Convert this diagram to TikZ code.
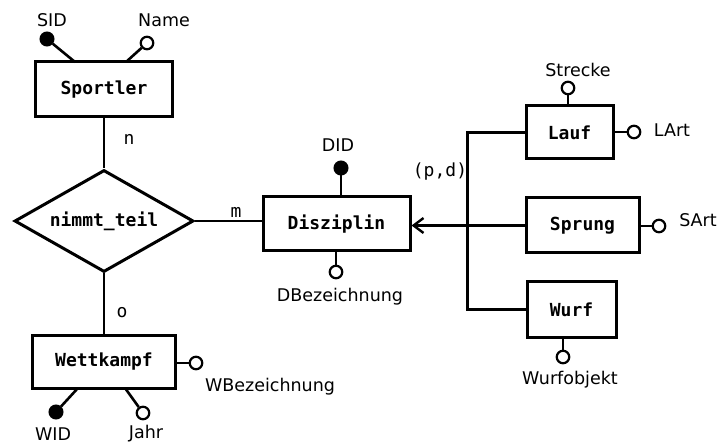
\documentclass[tikz,border=0pt]{standalone}
\usepackage{fontspec}
\setmainfont{DejaVu Sans}
\newfontfamily\boxfont{DejaVu Sans Mono}
\usetikzlibrary{shapes.geometric,arrows.meta}
\begin{document}
\begin{tikzpicture}[x=1pt,y=-1pt, line width=2.6pt,
 ent/.style={draw, rectangle, line width=3pt, font=\boxfont\bfseries\fontsize{18}{20}\selectfont, inner sep=0},
 rel/.style={draw, diamond, aspect=1.75, line width=3pt, font=\boxfont\bfseries\fontsize{18}{20}\selectfont, inner sep=0},
 key/.style={circle, fill, draw, minimum size=13pt, inner sep=0, line width=2pt},
 att/.style={circle, draw, fill=white, minimum size=12.5pt, inner sep=0, line width=2.2pt},
 lbl/.style={font=\fontsize{17.5}{20}\selectfont, inner sep=0},
 card/.style={font=\boxfont\fontsize{18}{20}\selectfont, inner sep=0},
]
\useasboundingbox[fill=white] (0,0) rectangle (720,446);

% entities
\node[ent, minimum width=137pt, minimum height=55pt] (sp) at (104,89.5) {Sportler};
\node[rel, minimum width=179pt, minimum height=102pt] (nt) at (104,221) {nimmt\_teil};
\node[ent, minimum width=147pt, minimum height=54pt] (dis) at (336.5,224) {Disziplin};
\node[ent, minimum width=143pt, minimum height=53pt] (wk) at (104,361.5) {Wettkampf};
\node[ent, minimum width=87pt, minimum height=53pt] (lauf) at (569.5,132.5) {Lauf};
\node[ent, minimum width=113pt, minimum height=55pt] (sprung) at (582.5,225.5) {Sprung};
\node[ent, minimum width=89pt, minimum height=55pt] (wurf) at (571.5,309.5) {Wurf};

% relationship lines
\draw (sp.south) -- (nt.north);
\draw (nt.east) -- (nt.east -| dis.west);
\draw (nt.south) -- (wk.north);

% generalisation
\draw (lauf.west) -- ++(-57,0) |- (wurf.west);
\draw[-{Straight Barb[length=10pt,width=15pt,line width=2.4pt]}] (sprung.west) -- (sprung.west -| dis.east);

% attribute anchor points on boxes
\coordinate (spA) at (75,62);
\coordinate (spB) at (126,62);
\coordinate (wkA) at (78,388);
\coordinate (wkB) at (125,388);

% attributes
\node[key] (sid) at (47,39) {};
\node[att] (name) at (147,43) {};
\draw (sid) -- (spA);
\draw (name) -- (spB);

\node[key] (did) at (341,168) {};
\draw (did) -- (did |- dis.north);
\node[att] (dbez) at (336,272) {};
\draw (dbez) -- (dbez |- dis.south);

\node[att] (wbez) at (196,363) {};
\draw (wbez) -- (wbez -| wk.east);
\node[key] (wid) at (56,412) {};
\draw (wid) -- (wkA);
\node[att] (jahr) at (143,413) {};
\draw (jahr) -- (wkB);

\node[att] (strecke) at (568,88) {};
\draw (strecke) -- (strecke |- lauf.north);
\node[att] (lart) at (634,132) {};
\draw (lart) -- (lart -| lauf.east);
\node[att] (sart) at (659,226) {};
\draw (sart) -- (sart -| sprung.east);
\node[att] (wo) at (563,357) {};
\draw (wo) -- (wo |- wurf.south);

% labels
\node[lbl] (lsid) at (52,20) {SID};
\node[lbl] (lname) at (164,20) {Name};
\node[lbl] (ldid) at (338,145) {DID};
\node[lbl] (ldbez) at (340,297) {DBezeichnung};
\node[lbl] (lwbez) at (270,387) {WBezeichnung};
\node[lbl] (lwid) at (53,434) {WID};
\node[lbl] (ljahr) at (146,434) {Jahr};
\node[lbl] (lstrecke) at (578,70) {Strecke};
\node[lbl] (llart) at (672,130) {LArt};
\node[lbl] (lsart) at (698,220) {SArt};
\node[lbl] (lwo) at (570,380) {Wurfobjekt};

\node[card] (cn) at (129,139) {n};
\node[card] (cm) at (236,212) {m};
\node[card] (co) at (122,313) {o};
\node[card] (cpd) at (440,172) {(p,d)};
\end{tikzpicture}
\end{document}
